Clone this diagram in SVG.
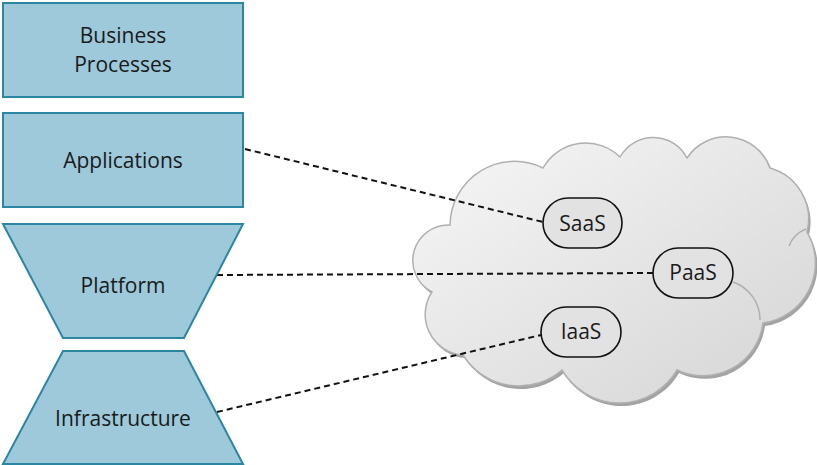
<svg xmlns="http://www.w3.org/2000/svg" width="817" height="465" viewBox="0 0 817 465">
<defs>
<linearGradient id="cg" x1="0" y1="0" x2="1" y2="1">
<stop offset="0" stop-color="#f7f7f7"/>
<stop offset="1" stop-color="#d4d4d4"/>
</linearGradient>
<path id="cloudshape" d="M432,292 A35.5,35.5 0 0 1 450,225 A64.5,64.5 0 0 1 543,168 A49,49 0 0 1 620,157 A38,38 0 0 1 687,158 A46.6,46.6 0 0 1 770,168 A53,53 0 0 1 807,232 A60.7,60.7 0 0 1 763,323 A60.5,60.5 0 0 1 677,370 A66.6,66.6 0 0 1 562,370 A65.8,65.8 0 0 1 463,355 A40.6,40.6 0 0 1 432,292 Z"/>
<style>
.box{fill:#9dc9db;stroke:#2b86a2;stroke-width:2}
.lbl{font-family:"Open Sans","Liberation Sans",sans-serif;font-size:21px;fill:#1a1a1a;text-anchor:middle}
.pill{fill:#e2e2e2;stroke:#111;stroke-width:1.6}
.con{stroke:#111;stroke-width:2;stroke-dasharray:6 4;fill:none}
.fold{fill:none;stroke:#b0b0b0;stroke-width:1.5}
</style>
</defs>
<rect width="817" height="465" fill="#fff"/>
<g id="cloud">
<use href="#cloudshape" transform="translate(2,3)" fill="#a3a3a3"/>
<use href="#cloudshape" fill="url(#cg)" stroke="#b0b0b0" stroke-width="1.5"/>
<path class="fold" d="M733,282 A40,40 0 0 1 760,320"/>
<path class="fold" d="M789,246 A30,30 0 0 1 806,229"/>
</g>
<g id="connectors">
<line class="con" x1="245" y1="149" x2="543" y2="222"/>
<line class="con" x1="217" y1="275" x2="653" y2="273"/>
<line class="con" x1="217" y1="412" x2="541" y2="335"/>
</g>
<g id="business">
<rect class="box" x="3" y="3" width="240" height="94"/>
<text class="lbl" x="123" y="43">Business</text>
<text class="lbl" x="123" y="72">Processes</text>
</g>
<g id="applications">
<rect class="box" x="3" y="113" width="240" height="94"/>
<text class="lbl" x="123" y="168">Applications</text>
</g>
<g id="platform">
<polygon class="box" points="3,224 243,224 184,338 63,338"/>
<text class="lbl" x="123" y="293">Platform</text>
</g>
<g id="infrastructure">
<polygon class="box" points="63,351 184,351 243,464 3,464"/>
<text class="lbl" x="123" y="426">Infrastructure</text>
</g>
<g id="saas">
<rect class="pill" x="543" y="198" width="79" height="50" rx="25"/>
<text class="lbl" x="582.5" y="231">SaaS</text>
</g>
<g id="paas">
<rect class="pill" x="653" y="248" width="80" height="50" rx="25"/>
<text class="lbl" x="693" y="280">PaaS</text>
</g>
<g id="iaas">
<rect class="pill" x="541" y="307" width="80" height="50" rx="25"/>
<text class="lbl" x="581" y="339">IaaS</text>
</g>
</svg>
